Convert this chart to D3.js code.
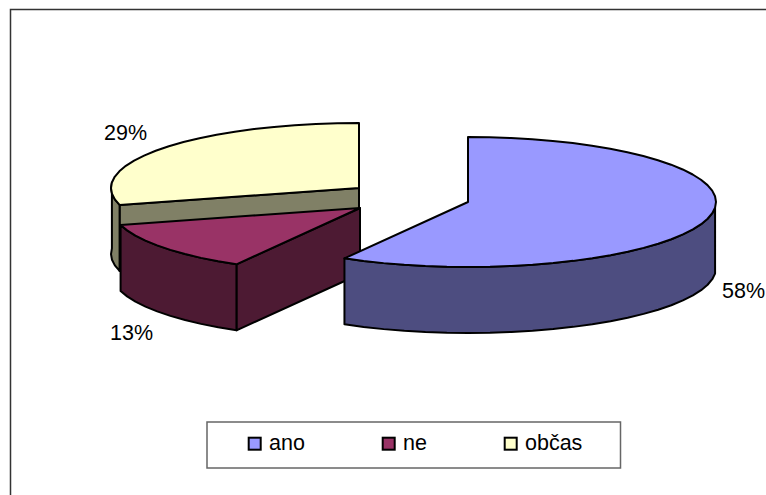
<!DOCTYPE html>
<html><head><meta charset="utf-8">
<style>html,body{margin:0;padding:0;background:#fff}svg{display:block}text{font-family:"Liberation Sans",Arial,sans-serif;fill:#000}</style>
<script src="https://cdn.jsdelivr.net/npm/d3@7/dist/d3.min.js"></script>
</head><body><script>
const categories = ["ano", "ne", "občas"];
const values = [58.3, 12.5, 29.2];
const valueLabels = ["58%", "13%", "29%"];
const topColors = ["#9999FF", "#993366", "#FFFFCC"];
const wallColors = ["#4D4D80", "#4D1A33", "#808066"];

const W = 766, H = 495;
const rx = 248, ry = 65, depth = 66, stepDeg = 5;
// exploded centres of each slice in the tilted plane
const centres = [[468, 202], [360, 208], [359, 188]];
const labelPos = [[722, 298], [110, 340], [104, 140]];
const swatchX = [248.7, 382.7, 504.7];

const svg = d3.select("body").append("svg").attr("width", W).attr("height", H);
svg.append("path").attr("d", d3.line()([[10.5, H], [10.5, 9.5], [W, 9.5]]))
  .attr("fill", "none").attr("stroke", "#333").attr("stroke-width", 1.5);

const arcs = d3.pie().sort(null).startAngle(0).endAngle(2 * Math.PI)(values);
const sx = d3.scaleLinear().domain([-1, 1]).range([-rx, rx]);
const sy = d3.scaleLinear().domain([-1, 1]).range([-ry, ry]);
const line = d3.line();

function rim(a, c) {
  const deg = stepDeg * Math.PI / 180, n = Math.max(1, Math.round((a.endAngle - a.startAngle) / deg));
  return d3.range(n + 1).map(i => {
    const t = a.startAngle + (a.endAngle - a.startAngle) * i / n;
    return [c[0] + sx(Math.sin(t)), c[1] + sy(-Math.cos(t))];
  });
}
const down = p => [p[0], p[1] + depth];
const style = (sel, fill) => sel.attr("fill", fill).attr("stroke", "#000")
  .attr("stroke-width", 2).attr("stroke-linejoin", "round");

// painter's order: back slice first
[2, 1, 0].forEach(i => {
  const a = arcs[i], c = centres[i], pts = rim(a, c), g = svg.append("g");
  const first = pts[0], last = pts[pts.length - 1];
  // cut faces: only those turned towards the viewer
  if (Math.sin(a.startAngle) < -1e-6) {
    style(g.append("path").attr("d", line([c, first, down(first), down(c)]) + "Z"), wallColors[i]);
  }
  if (Math.sin(a.endAngle) > 1e-6) {
    style(g.append("path").attr("d", line([c, last, down(last), down(c)]) + "Z"), wallColors[i]);
  }
  // outer wall: only the part of the rim facing the viewer
  const vis = pts.filter((p, k) => {
    const t = a.startAngle + (a.endAngle - a.startAngle) * k / (pts.length - 1);
    return t >= Math.PI / 2 - 1e-6 && t <= 3 * Math.PI / 2 + 0.09;
  });
  if (vis.length > 1) {
    style(g.append("path").attr("d", line(vis.concat(vis.map(down).reverse())) + "Z"), wallColors[i]);
  }
  // top
  style(g.append("path").attr("d", line([c].concat(pts)) + "Z"), topColors[i]);
});

// value labels
svg.selectAll("text.v").data(valueLabels).join("text").attr("class", "v")
  .attr("x", (d, i) => labelPos[i][0]).attr("y", (d, i) => labelPos[i][1])
  .attr("font-size", 21.5).text(d => d);

// legend
svg.append("rect").attr("x", 207).attr("y", 422).attr("width", 413.5).attr("height", 46)
  .attr("fill", "#fff").attr("stroke", "#666").attr("stroke-width", 1.5);
const lg = svg.selectAll("g.l").data(categories).join("g").attr("class", "l");
lg.append("rect").attr("x", (d, i) => swatchX[i]).attr("y", 437.7).attr("width", 12).attr("height", 12)
  .attr("fill", (d, i) => topColors[i]).attr("stroke", "#000").attr("stroke-width", 2);
lg.append("text").attr("x", (d, i) => swatchX[i] + 20.3).attr("y", 450)
  .attr("font-size", 21.5).text(d => d);
</script></body></html>
